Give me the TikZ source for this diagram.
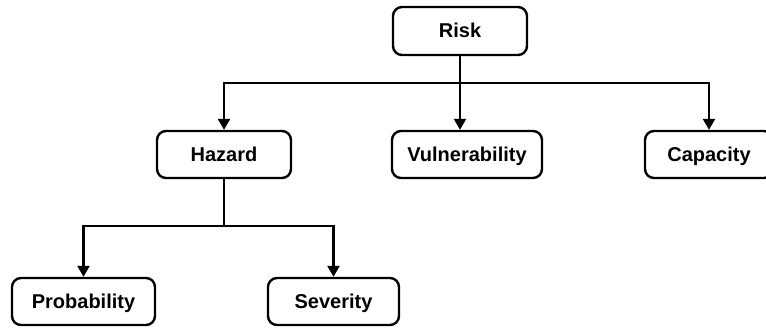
\documentclass[tikz,border=0pt]{standalone}
\usepackage{fontspec}
\setmainfont{Liberation Sans}
\usetikzlibrary{arrows.meta}
\begin{document}
\begin{tikzpicture}[x=1pt,y=-1pt,
  box/.style={draw=black,line width=2.4pt,rounded corners=9pt,fill=white,
    inner sep=0pt,minimum height=47pt,text height=16pt,text depth=3pt,
    font=\fontsize{20}{23}\selectfont\bfseries},
  link/.style={line width=2.4pt,draw=black,line join=miter},
  arr/.style={link,-{Triangle[width=12pt,length=11pt]}}]
\useasboundingbox (0,0) rectangle (766,327);
% nodes
\node[box,minimum width=134pt,minimum height=48pt] (risk) at (460,31) {Risk};
\node[box,minimum width=134pt] (hazard) at (224,154.5) {Hazard};
\node[box,minimum width=150pt] (vuln) at (467,154.5) {Vulnerability};
\node[box,minimum width=128pt] (cap) at (709,154.5) {Capacity};
\node[box,minimum width=143pt] (prob) at (83.5,301.5) {Probability};
\node[box,minimum width=131pt] (sev) at (333.5,301.5) {Severity};
% junction points
\coordinate (rj) at (460,83);
\coordinate (hj) at (224,226);
% top level connectors
\draw[link] (risk.south) -- (rj);
\draw[arr] (rj) -| (hazard.north);
\draw[arr] (rj) -- (rj |- vuln.north);
\draw[arr] (rj) -| (cap.north);
% hazard connectors
\draw[link] (hazard.south) -- (hj);
\draw[arr] (hj) -| (prob.north);
\draw[arr] (hj) -| (sev.north);
\end{tikzpicture}
\end{document}
